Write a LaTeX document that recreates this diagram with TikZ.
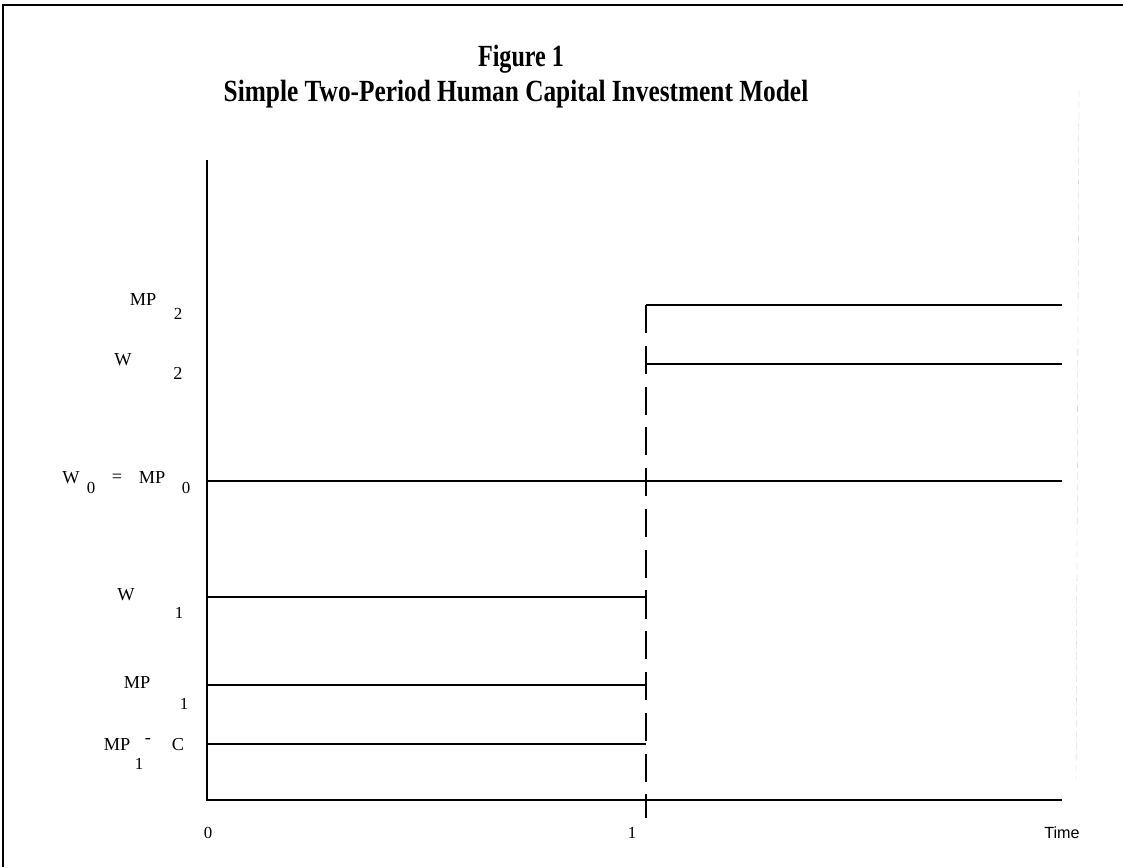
\documentclass[tikz,border=0pt]{standalone}
\usepackage{fontspec}
\setmainfont{Liberation Serif}
\newfontfamily\timefont{Liberation Sans}
\begin{document}
\begin{tikzpicture}[x=0.025cm,y=-0.025cm,
  every node/.style={inner sep=0pt},
  title/.style={font=\fontsize{17.5}{17.5}\selectfont\bfseries},
  lab/.style={font=\fontsize{13}{13}\selectfont},
  sub/.style={font=\fontsize{12}{12}\selectfont},
  wage/.style={line width=1.4pt},
  period/.style={line width=1.3pt,dash pattern=on 20pt off 9pt}]
\useasboundingbox (0,0) rectangle (1123,867);

% ( page frame of the scanned figure, and the faint scan line on the right )
\draw[line width=0.9pt] (3,867) -- (3,5) -- (1123,5);
\draw[gray!45,very thin,dash pattern=on 5pt off 3pt] (1079,90) -- (1076,780);

\node[title] (fig) at (521,59) {\scalebox{0.98}[1.25]{Figure 1}};
\node[title] (cap) at (516,94) {\scalebox{1.03}[1.25]{Simple Two-Period Human Capital Investment Model}};

% ( all levels are given in pixel units of the scan, y going down )
\path
(207,160) coordinate(top) (207,800) coordinate(o) (1062,800) coordinate(end)
(646,305) coordinate(mp2a) (1062,305) coordinate(mp2b)
(646,364) coordinate(w2a) (1062,364) coordinate(w2b)
(207,481) coordinate(w0a) (1062,481) coordinate(w0b)
(207,597) coordinate(w1a) (646,597) coordinate(w1b)
(207,685) coordinate(mp1a) (646,685) coordinate(mp1b)
(207,744) coordinate(mc1a) (646,744) coordinate(mc1b)
(646,818) coordinate(tick);

\draw[wage] (top) -- (o) -- (end);
\draw[wage] (mp2a) -- (mp2b);
\draw[wage] (w2a) -- (w2b);
\draw[wage] (w0a) -- (w0b);
\draw[wage] (w1a) -- (w1b);
\draw[wage] (mp1a) -- (mp1b);
\draw[wage] (mc1a) -- (mc1b);
\draw[period] (mp2a) -- (tick);

% ( level labels, subscripts set apart as in the original )
\node[lab] (mp2) at (143,300) {MP};
\node[sub] (mp2s) at (178,314) {2};
\node[lab] (w2) at (123,360) {W};
\node[lab] (w2s) at (178,373) {2};
\node[lab] (w0) at (71,478) {W};
\node[sub] (w0s) at (91,488) {0};
\node[lab] (eq) at (117,478) {=};
\node[lab] (mp0) at (152,478) {MP};
\node[sub] (mp0s) at (186,488) {0};
\node[lab] (w1) at (126,595) {W};
\node[sub] (w1s) at (179,613) {1};
\node[lab] (mp1) at (137,683) {MP};
\node[sub] (mp1s) at (184,704) {1};
\node[lab] (mc) at (117,745) {MP};
\node[lab] (minus) at (148,741) {-};
\node[lab] (c) at (178,745) {C};
\node[sub] (mcs) at (139,764) {1};

\node[sub] (t0) at (208,833) {0};
\node[sub] (t1) at (632,833) {1};
\node[font=\fontsize{11.5}{11.5}\selectfont\timefont] (time) at (1062,833) {Time};
\end{tikzpicture}
\end{document}
